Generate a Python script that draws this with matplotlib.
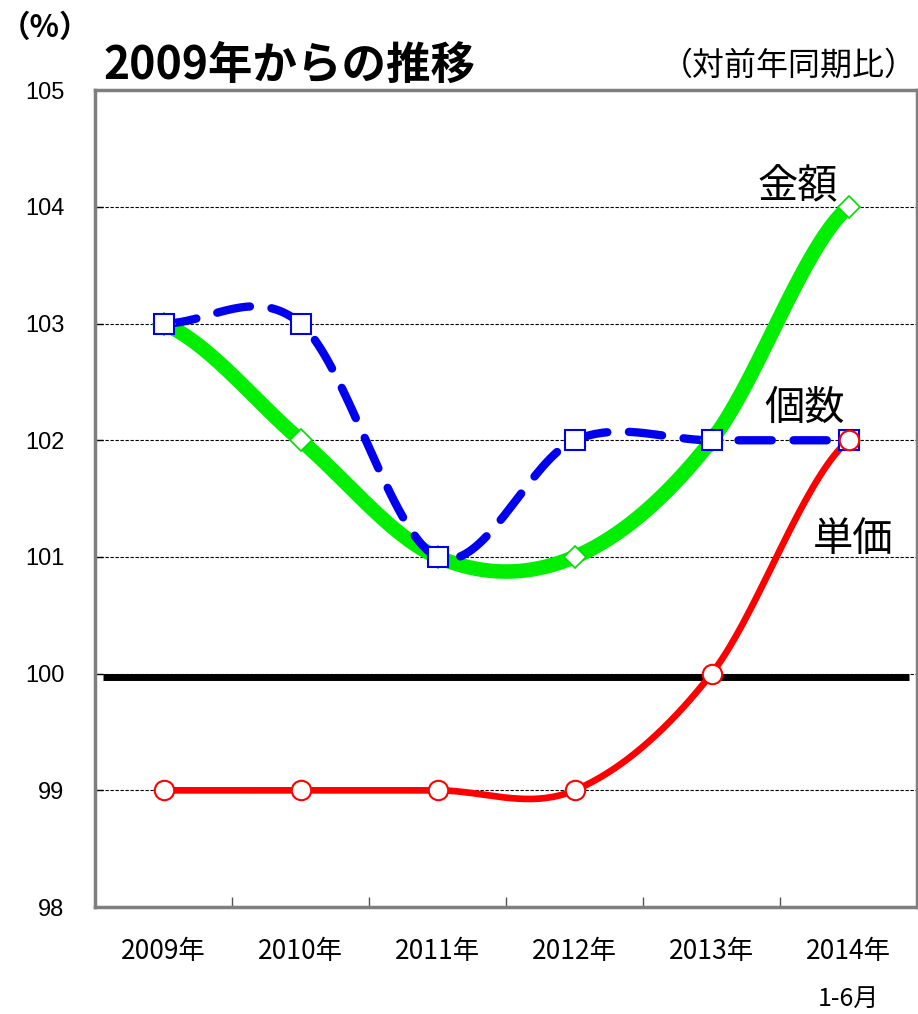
import numpy as np
import matplotlib.pyplot as plt
from matplotlib.transforms import blended_transform_factory

plt.rcParams['font.family'] = ['Noto Sans CJK JP', 'DejaVu Sans']

# data
years = ['2009年', '2010年', '2011年', '2012年', '2013年', '2014年']
last_note = '1-6月'
kingaku = [103, 102, 101, 101, 102, 104]   # 金額
kosuu = [103, 103, 101, 102, 102, 102]     # 個数
tanka = [99, 99, 99, 99, 100, 102]         # 単価


def smooth(ys, n=40):
    """Catmull-Rom style smoothing (like Excel's smoothed line)."""
    ys = np.asarray(ys, dtype=float)
    xs = np.arange(len(ys), dtype=float)
    p = np.concatenate([[ys[0]], ys, [ys[-1]]])
    out_x, out_y = [], []
    for i in range(len(ys) - 1):
        p0, p1, p2, p3 = p[i], p[i + 1], p[i + 2], p[i + 3]
        m1 = (p2 - p0) / 2
        m2 = (p3 - p1) / 2
        t = np.linspace(0, 1, n)
        h00 = 2 * t**3 - 3 * t**2 + 1
        h10 = t**3 - 2 * t**2 + t
        h01 = -2 * t**3 + 3 * t**2
        h11 = t**3 - t**2
        out_y.append(h00 * p1 + h10 * m1 + h01 * p2 + h11 * m2)
        out_x.append(xs[i] + t)
    return np.concatenate(out_x), np.concatenate(out_y)


fig = plt.figure(figsize=(9.18, 10.14), dpi=100)
ax = fig.add_axes([0.1035, 0.1055, 0.8955, 0.8055])

x = np.arange(len(years))

# grid lines
for v in range(98, 106):
    ax.axhline(v, color='black', lw=0.8, ls=(0, (3, 1.5)), zorder=1)

# 100 baseline
ax.plot([-0.44, 5.44], [99.97, 99.97], color='black', lw=5, zorder=2, solid_capstyle='butt')

sx, sy = smooth(kingaku)
ax.plot(sx, sy, color='#00ee00', lw=10.5, zorder=3, solid_capstyle='butt')
ax.plot(x, kingaku, ls='none', marker='D', ms=11, mfc='white', mec='#00dd00', mew=1.2, zorder=6)

sx, sy = smooth(kosuu)
ax.plot(sx, sy, color='#0000ee', lw=6, ls=(0, (4, 2.6)), dash_capstyle='round', zorder=4)
ax.plot(x, kosuu, ls='none', marker='s', ms=14, mfc='white', mec='#0000ee', mew=1.5, zorder=6)

sx, sy = smooth(tanka)
ax.plot(sx, sy, color='#ff0000', lw=4.8, zorder=5)
ax.plot(x, tanka, ls='none', marker='o', ms=14, mfc='white', mec='#ff0000', mew=1.5, zorder=6)

ax.set_xlim(-0.5, 5.5)
ax.set_ylim(98, 105)

# x ticks at category boundaries, labels at centers
ax.set_xticks(np.arange(0.5, 5.5, 1.0))
ax.set_xticklabels([])
ax.tick_params(axis='x', which='major', direction='in', length=7, width=1, colors='#555555')
ax.set_xticks(x, minor=True)
ax.set_xticklabels(years, minor=True, fontsize=19, va='top')
ax.tick_params(axis='x', which='minor', length=0, pad=22)

trans = blended_transform_factory(ax.transData, fig.transFigure)
ax.text(x[-1], 0.002, last_note, transform=trans, fontsize=18, ha='center', va='bottom')

ax.set_yticks(range(98, 106))
ax.set_yticklabels([str(v) for v in range(98, 106)], family='Liberation Sans', fontsize=17)
ax.tick_params(axis='y', direction='in', length=6, width=1, pad=22)

for s in ax.spines.values():
    s.set_color('#7f7f7f')
    s.set_linewidth(2.5)

# series labels
ax.text(4.63, 104.18, '金額', fontsize=29, ha='center', va='center', zorder=7)
ax.text(4.68, 102.27, '個数', fontsize=29, ha='center', va='center', zorder=7)
ax.text(5.03, 101.15, '単価', fontsize=29, ha='center', va='center', zorder=7)

fig.text(0.0, 0.972, '（%）', fontsize=22, weight='bold', ha='left', va='center')
fig.text(0.113, 0.935, '2009年からの推移', fontsize=32, weight='bold', ha='left', va='center')
fig.text(0.999, 0.935, '（対前年同期比）', fontsize=23, ha='right', va='center')

fig.savefig('out.png', dpi=100)
